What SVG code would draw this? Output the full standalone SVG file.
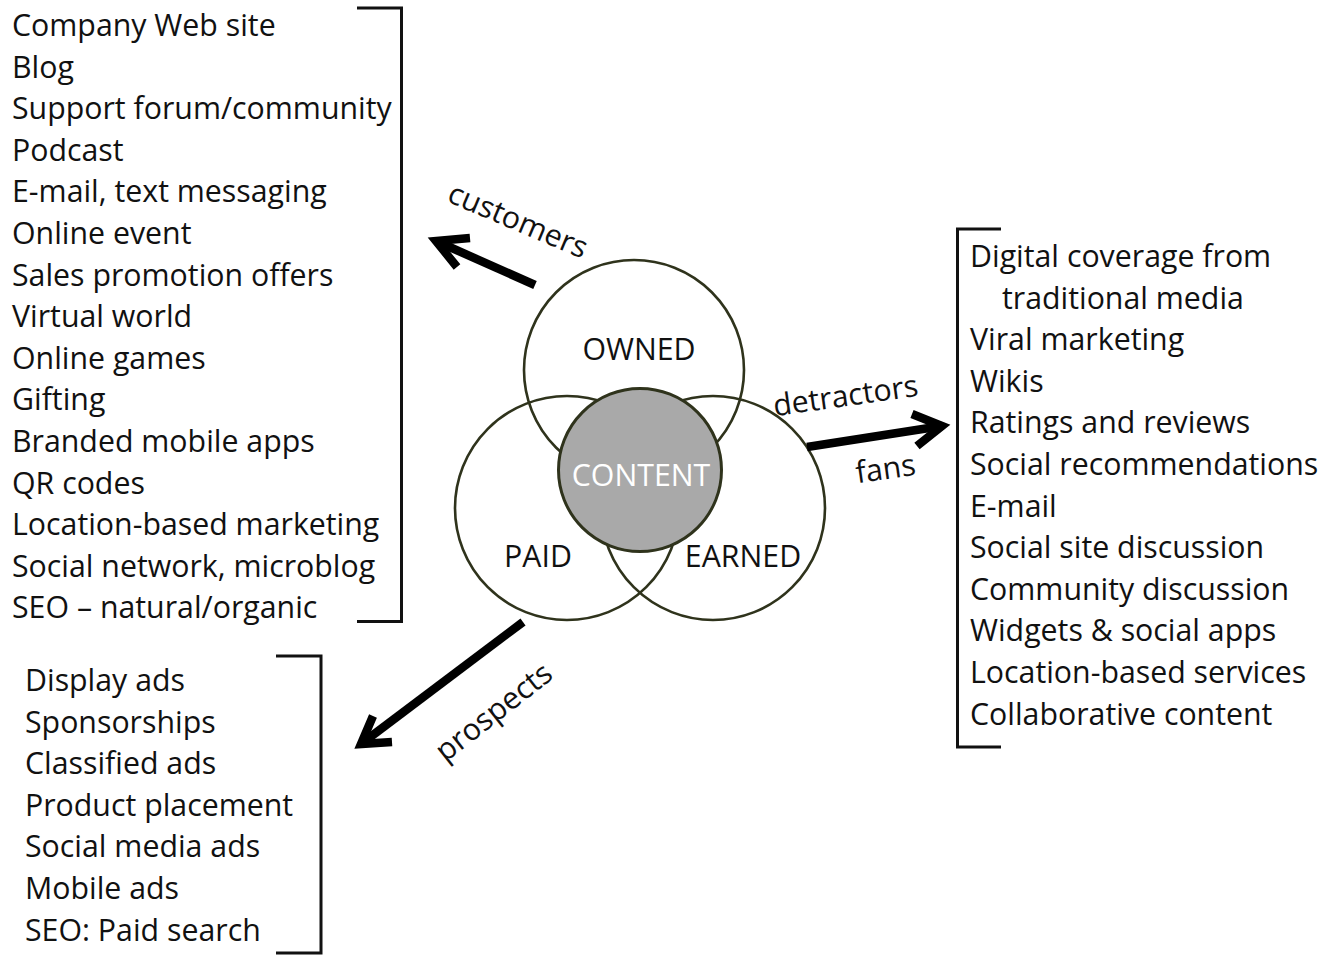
<svg xmlns="http://www.w3.org/2000/svg" width="1323" height="956" viewBox="0 0 1323 956">
<style>
text{font-family:"Open Sans","Noto Sans","DejaVu Sans",sans-serif;font-size:30.3px;fill:#111}
.ring{fill:none;stroke:#2f331c;stroke-width:2.6}
.br{fill:none;stroke:#111;stroke-width:3}
.arr{fill:none;stroke:#000;stroke-width:8.5;stroke-linecap:butt;stroke-linejoin:miter}
.c{text-anchor:middle}
</style>
<rect width="1323" height="956" fill="#fff"/>
<g id="venn">
<g id="owned"><circle class="ring" cx="634" cy="370" r="110"/><text class="c" x="639" y="360">OWNED</text></g>
<g id="paid"><circle class="ring" cx="567" cy="508" r="112"/><text class="c" x="538" y="567">PAID</text></g>
<g id="earned"><circle class="ring" cx="713" cy="508" r="112"/><text class="c" x="743" y="567">EARNED</text></g>
<g id="content"><circle cx="640" cy="470" r="81.5" fill="#a9a9a9" stroke="#2f331c" stroke-width="3"/><text class="c" x="641" y="486" style="fill:#fff">CONTENT</text></g>
</g>
<g id="owned-list">
<path class="br" d="M357 8 H401.5 V621.5 H357"/>
<text x="12" y="36">Company Web site</text>
<text x="12" y="77.6">Blog</text>
<text x="12" y="119.2">Support forum/community</text>
<text x="12" y="160.8">Podcast</text>
<text x="12" y="202.4">E-mail, text messaging</text>
<text x="12" y="244">Online event</text>
<text x="12" y="285.6">Sales promotion offers</text>
<text x="12" y="327.2">Virtual world</text>
<text x="12" y="368.8">Online games</text>
<text x="12" y="410.4">Gifting</text>
<text x="12" y="452">Branded mobile apps</text>
<text x="12" y="493.6">QR codes</text>
<text x="12" y="535.2">Location-based marketing</text>
<text x="12" y="576.8">Social network, microblog</text>
<text x="12" y="618.4">SEO – natural/organic</text>
</g>
<g id="earned-list">
<path class="br" d="M1001 229 H957.5 V747 H1001"/>
<text x="970" y="267">Digital coverage from</text>
<text x="1002" y="308.6">traditional media</text>
<text x="970" y="350.2">Viral marketing</text>
<text x="970" y="391.8">Wikis</text>
<text x="970" y="433.4">Ratings and reviews</text>
<text x="970" y="475">Social recommendations</text>
<text x="970" y="516.6">E-mail</text>
<text x="970" y="558.2">Social site discussion</text>
<text x="970" y="599.8">Community discussion</text>
<text x="970" y="641.4">Widgets &amp; social apps</text>
<text x="970" y="683">Location-based services</text>
<text x="970" y="724.6">Collaborative content</text>
</g>
<g id="paid-list">
<path class="br" d="M276 656 H321 V953 H276"/>
<text x="25" y="691">Display ads</text>
<text x="25" y="732.6">Sponsorships</text>
<text x="25" y="774.2">Classified ads</text>
<text x="25" y="815.8">Product placement</text>
<text x="25" y="857.4">Social media ads</text>
<text x="25" y="899">Mobile ads</text>
<text x="25" y="940.6">SEO: Paid search</text>
</g>
<g id="connectors">
<path class="arr" d="M535 285 L436 241"/>
<path class="arr" d="M470 238 L436 241 L457 267"/>
<path class="arr" d="M807 447 L942 426"/>
<path class="arr" d="M912 414 L942 426 L917 446"/>
<path class="arr" d="M523 622 L361 744"/>
<path class="arr" d="M373 716 L361 744 L392 742"/>
<text class="c" transform="translate(514,230) rotate(23)">customers</text>
<text class="c" transform="translate(847,406) rotate(-8)">detractors</text>
<text class="c" transform="translate(887,479) rotate(-8)">fans</text>
<text class="c" transform="translate(500,720) rotate(-38)">prospects</text>
</g>
</svg>
